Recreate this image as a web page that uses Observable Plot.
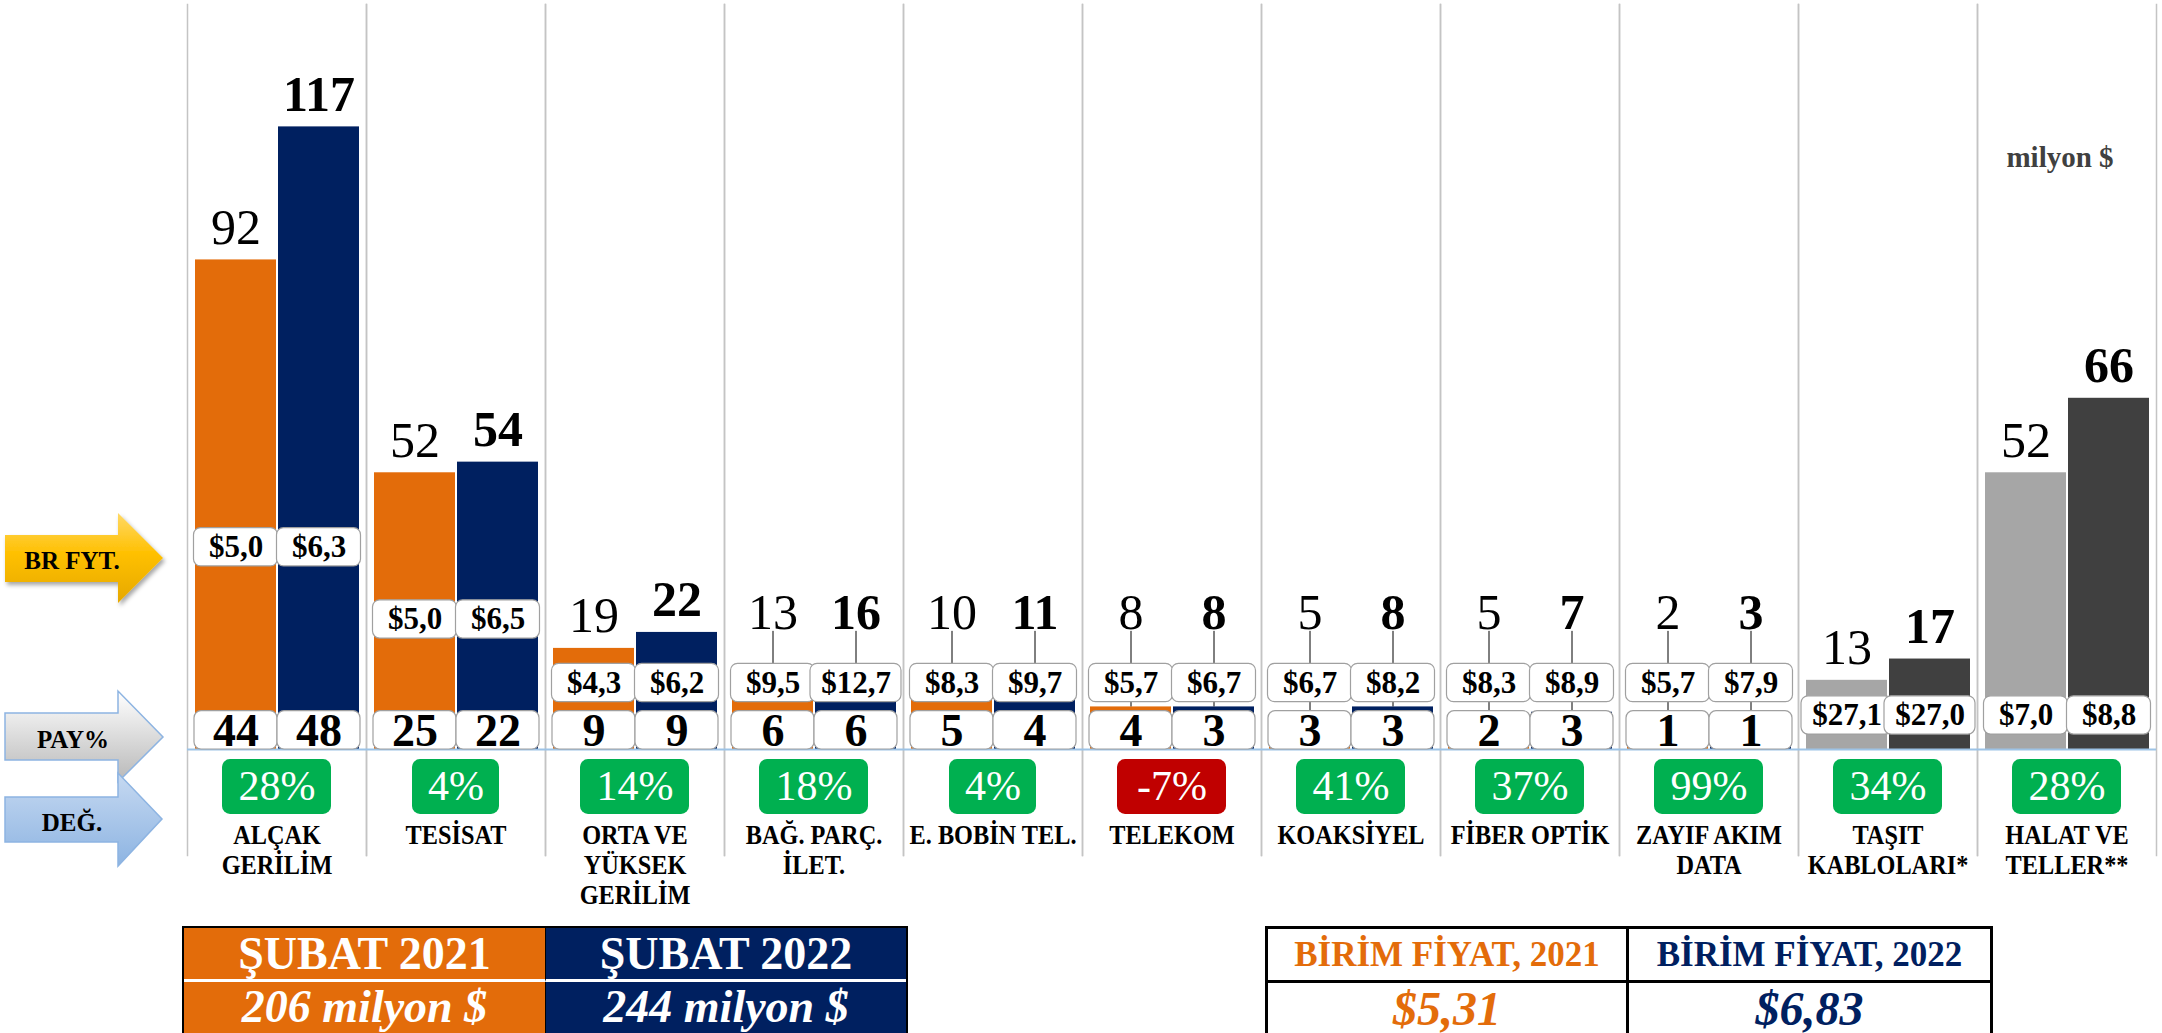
<!DOCTYPE html>
<html><head><meta charset="utf-8">
<script src="https://cdn.jsdelivr.net/npm/d3@7"></script>
<script src="https://cdn.jsdelivr.net/npm/@observablehq/plot@0.6"></script>
<style>
html,body{margin:0;padding:0;background:#fff;}
#wrap{position:relative;width:2162px;height:1033px;overflow:hidden;font-family:"Liberation Serif",serif;}
#chart{position:absolute;left:0;top:0;}
#arrows{position:absolute;left:0;top:0;}
.tbl{position:absolute;box-sizing:border-box;display:grid;}
.tbl div{display:flex;justify-content:center;font-weight:bold;white-space:nowrap;}
.r1{align-items:center;}
.r2{align-items:flex-start;font-style:italic;}
</style></head>
<body><div id="wrap">
<div id="chart"></div>
<svg id="arrows" width="190" height="900" font-family="Liberation Serif, serif">
<defs>
<linearGradient id="gY" x1="0" y1="0" x2="0" y2="1"><stop offset="0" stop-color="#FFD966"/><stop offset="0.45" stop-color="#FFC000"/><stop offset="1" stop-color="#E6A800"/></linearGradient>
<linearGradient id="gG" x1="0" y1="0" x2="0" y2="1"><stop offset="0" stop-color="#FFFFFF"/><stop offset="1" stop-color="#B8B8B8"/></linearGradient>
<linearGradient id="gB" x1="0" y1="0" x2="0" y2="1"><stop offset="0" stop-color="#C6D9F1"/><stop offset="1" stop-color="#8DB4E2"/></linearGradient>
<filter id="sh" x="-10%" y="-10%" width="130%" height="130%"><feDropShadow dx="2" dy="3" stdDeviation="2" flood-opacity="0.35"/></filter>
</defs>
<path d="M5,535 H118 V513 L163,558 L118,603 V582 H5 Z" fill="url(#gY)" filter="url(#sh)"/>
<text x="72" y="560" text-anchor="middle" dominant-baseline="central" font-weight="bold" font-size="25">BR FYT.</text>
<path d="M5,713 H118 V691 L163,737 L118,782 V760 H5 Z" fill="url(#gG)" stroke="#8DB4E2" stroke-width="1.5"/>
<text x="73" y="739" text-anchor="middle" dominant-baseline="central" font-weight="bold" font-size="25">PAY%</text>
<path d="M5,797 H118 V773 L162,819 L118,866 V842 H5 Z" fill="url(#gB)" stroke="#8DB4E2" stroke-width="1.5"/>
<text x="72" y="822" text-anchor="middle" dominant-baseline="central" font-weight="bold" font-size="25">DEĞ.</text>
</svg>
<div id="tblLeft" class="tbl" style="left:182px;top:926px;width:726px;height:120px;border:2px solid #000;grid-template-columns:362px 1fr;grid-template-rows:54px 1fr;">
 <div class="r1" id="p21" style="background:#E36C0A;color:#fff;font-size:46px;border-bottom:3px solid #fff;border-right:1px solid #000;"></div>
 <div class="r1" id="p22" style="background:#002060;color:#fff;font-size:46px;border-bottom:3px solid #fff;"></div>
 <div class="r2" id="t21" style="background:#E36C0A;color:#fff;font-size:46px;line-height:50px;border-right:1px solid #000;"></div>
 <div class="r2" id="t22" style="background:#002060;color:#fff;font-size:46px;line-height:50px;"></div>
</div>
<div id="tblRight" class="tbl" style="left:1265px;top:926px;width:728px;height:120px;border:3px solid #000;grid-template-columns:361px 1fr;grid-template-rows:54px 1fr;background:#fff;">
 <div class="r1" id="h21" style="color:#E36C0A;font-size:35px;border-bottom:3px solid #000;border-right:3px solid #000;"></div>
 <div class="r1" id="h22" style="color:#002060;font-size:35px;border-bottom:3px solid #000;"></div>
 <div class="r2" id="u21" style="color:#E36C0A;font-size:48px;line-height:52px;border-right:3px solid #000;"></div>
 <div class="r2" id="u22" style="color:#002060;font-size:48px;line-height:52px;"></div>
</div>
</div>
<script>
// ---- data ----
const categories = ["ALÇAK\nGERİLİM", "TESİSAT", "ORTA VE\nYÜKSEK\nGERİLİM", "BAĞ. PARÇ.\nİLET.", "E. BOBİN TEL.", "TELEKOM", "KOAKSİYEL", "FİBER OPTİK", "ZAYIF AKIM\nDATA", "TAŞIT\nKABLOLARI*", "HALAT VE\nTELLER**"];
const value2021 = [92, 52, 19, 13, 10, 8, 5, 5, 2, 13, 52];
const value2022 = [117, 54, 22, 16, 11, 8, 8, 7, 3, 17, 66];
const price2021 = [5.0, 5.0, 4.3, 9.5, 8.3, 5.7, 6.7, 8.3, 5.7, 27.1, 7.0];
const price2022 = [6.3, 6.5, 6.2, 12.7, 9.7, 6.7, 8.2, 8.9, 7.9, 27.0, 8.8];
const share2021 = [44, 25, 9, 6, 5, 4, 3, 2, 1, null, null];
const share2022 = [48, 22, 9, 6, 4, 3, 3, 3, 1, null, null];
const change = [28, 4, 14, 18, 4, -7, 41, 37, 99, 34, 28];
const greyCategories = ["TAŞIT\nKABLOLARI*", "HALAT VE\nTELLER**"];
const periods = ["ŞUBAT 2021", "ŞUBAT 2022"];
const totals = [206, 244];
const unitPriceTitles = ["BİRİM FİYAT, 2021", "BİRİM FİYAT, 2022"];
const unitPrices = [5.31, 6.83];
const unitLabel = "milyon $";

// ---- styles ----
const ORANGE = "#E36C0A", NAVY = "#002060", LGREY = "#A6A6A6", DGREY = "#404040";
const H = 3.6; // half height of label boxes, in y units

const comma = (v, d) => v.toFixed(d).replace(".", ",");
function priceLevel(i) {
  if (share2021[i] == null) return 6.4;
  const m = Math.min(value2021[i], value2022[i]);
  return Math.max(12.5, Math.min(38, m * 0.47));
}

const rows = [];
categories.forEach((cat, i) => {
  [["2021", value2021, price2021, share2021], ["2022", value2022, price2022, share2022]].forEach(([year, vals, prices, shares]) => {
    const grey = greyCategories.includes(cat);
    const p = priceLevel(i);
    const lifted = vals[i] < p + H;
    rows.push({
      cat, year, value: vals[i], priceText: "$" + comma(prices[i], 1), share: shares[i],
      fill: year === "2021" ? (grey ? LGREY : ORANGE) : (grey ? DGREY : NAVY),
      p, lifted, labelY: lifted ? p + 2 * H : vals[i]
    });
  });
});
const catRows = categories.map((cat, i) => ({cat, change: change[i], text: change[i] + "%"}));

const chart = Plot.plot({
  width: 2162, height: 915,
  marginLeft: 183, marginRight: 3, marginTop: 4, marginBottom: 60,
  fx: {domain: categories, paddingInner: 0, paddingOuter: 0, axis: null},
  x: {domain: ["2021", "2022"], paddingInner: 0.025, paddingOuter: 0.09, axis: null},
  y: {domain: [-19.92, 140], axis: null},
  color: {type: "identity"},
  style: {fontFamily: "Liberation Serif, serif", color: "black", background: "transparent"},
  marks: [
    Plot.frame({anchor: "left", stroke: "#c4c4c4", strokeWidth: 1.5}),
    Plot.frame({anchor: "right", stroke: "#c4c4c4", strokeWidth: 1.5}),
    Plot.barY(rows, {fx: "cat", x: "year", y: "value", fill: "fill"}),
    Plot.ruleY([0], {stroke: "#9DC3E6", strokeWidth: 2}),
    Plot.ruleX(rows.filter(d => d.lifted), {fx: "cat", x: "year", y1: d => d.p + H, y2: d => d.labelY + 2.5, stroke: "black", strokeWidth: 1}),
    Plot.ruleX(rows.filter(d => d.value < d.p - H), {fx: "cat", x: "year", y1: "value", y2: d => d.p - H, stroke: "black", strokeWidth: 1}),
    Plot.barY(rows.filter(d => d.share != null), {fx: "cat", x: "year", y1: 0, y2: 2 * H, fill: "white", stroke: "#a0a0a0", strokeWidth: 1.2, rx: 7, insetLeft: -1, insetRight: -1}),
    Plot.text(rows.filter(d => d.share != null), {fx: "cat", x: "year", y: H - 0.15, text: d => String(d.share), fontSize: 46, fontWeight: "bold", lineAnchor: "middle"}),
    Plot.barY(rows.filter(d => d.priceText.length <= 4), {fx: "cat", x: "year", y1: d => d.p - H, y2: d => d.p + H, fill: "white", stroke: "#a0a0a0", strokeWidth: 1.2, rx: 7, insetLeft: -1.5, insetRight: -1.5}),
    Plot.barY(rows.filter(d => d.priceText.length > 4), {fx: "cat", x: "year", y1: d => d.p - H, y2: d => d.p + H, fill: "white", stroke: "#a0a0a0", strokeWidth: 1.2, rx: 7, insetLeft: -5, insetRight: -5}),
    Plot.text(rows, {fx: "cat", x: "year", y: "p", text: "priceText", fontSize: 31, fontWeight: "bold", lineAnchor: "middle"}),
    Plot.text(rows.filter(d => d.year === "2021"), {fx: "cat", x: "year", y: "labelY", text: d => String(d.value), fontSize: 50, dy: -32, lineAnchor: "middle"}),
    Plot.text(rows.filter(d => d.year === "2022"), {fx: "cat", x: "year", y: "labelY", text: d => String(d.value), fontSize: 50, fontWeight: "bold", dy: -32, lineAnchor: "middle"}),
    Plot.rect(catRows.filter(d => d.text.length <= 2), {fx: "cat", y1: -1.9, y2: -12.2, fill: d => d.change < 0 ? "#C00000" : "#00B050", rx: 8, insetLeft: 46, insetRight: 46}),
    Plot.rect(catRows.filter(d => d.text.length > 2), {fx: "cat", y1: -1.9, y2: -12.2, fill: d => d.change < 0 ? "#C00000" : "#00B050", rx: 8, insetLeft: 35, insetRight: 35}),
    Plot.text(catRows, {fx: "cat", y: -7.05, text: "text", fill: "white", fontSize: 42, lineAnchor: "middle"}),
    Plot.text(catRows, {fx: "cat", frameAnchor: "bottom", text: "cat", lineAnchor: "top", dy: -33, fontSize: 27, fontWeight: "bold", lineHeight: 1.11}),
    Plot.text([categories[categories.length - 1]], {fx: d => d, frameAnchor: "top", text: () => unitLabel, dy: 153, dx: -7, fontSize: 29, fontWeight: "bold", fill: "#404040", lineAnchor: "middle"})
  ]
});
document.getElementById("chart").append(chart);

// condense the category labels horizontally (reference uses a narrow serif face)
const catNames = new Set(categories.map(c => c.replace(/\n/g, "")));
chart.querySelectorAll("text").forEach(t => {
  if (!catNames.has(t.textContent)) return;
  const tr = t.getAttribute("transform");
  if (tr) t.setAttribute("transform", tr + " scale(0.9,1)");
});

document.getElementById("p21").textContent = periods[0];
document.getElementById("p22").textContent = periods[1];
document.getElementById("t21").textContent = totals[0] + " " + unitLabel;
document.getElementById("t22").textContent = totals[1] + " " + unitLabel;
document.getElementById("h21").textContent = unitPriceTitles[0];
document.getElementById("h22").textContent = unitPriceTitles[1];
document.getElementById("u21").textContent = "$" + comma(unitPrices[0], 2);
document.getElementById("u22").textContent = "$" + comma(unitPrices[1], 2);
</script>
</body></html>
